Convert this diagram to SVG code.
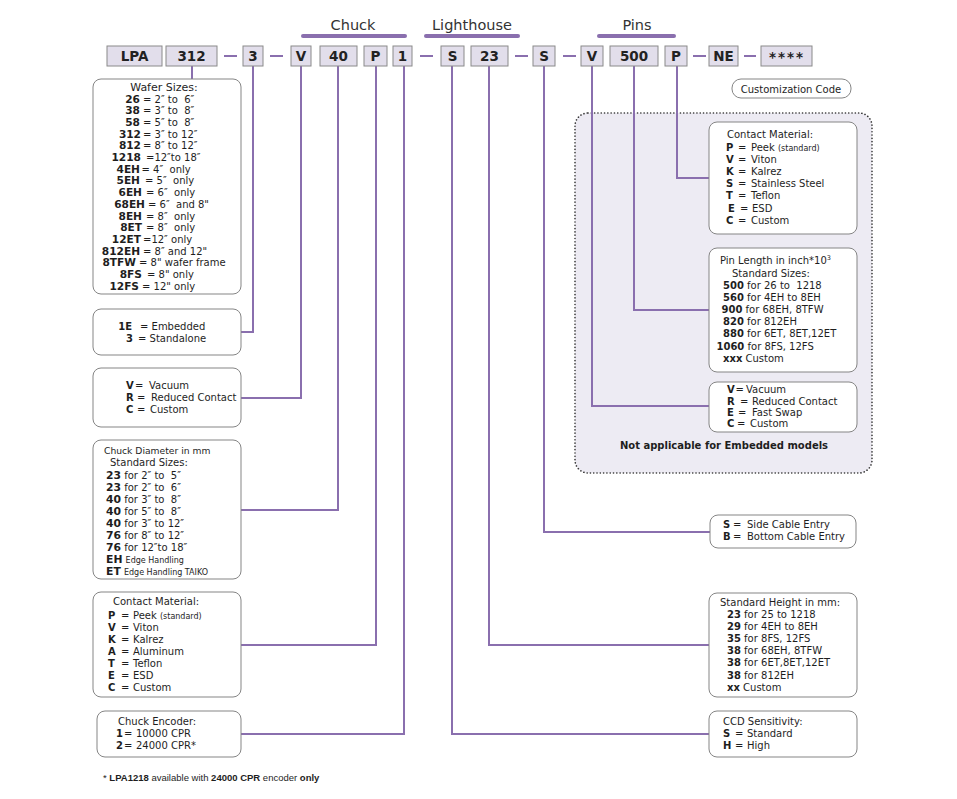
<svg xmlns="http://www.w3.org/2000/svg" width="957" height="799" viewBox="0 0 957 799" xml:space="preserve">
<style>
text{font-family:"DejaVu Sans",Verdana,sans-serif;font-size:10px;fill:#1e1e1e;white-space:pre}
.b{font-weight:bold}
.s{font-size:8px}
.wb{font-weight:bold;font-size:10.6px;text-anchor:end}
.db{font-weight:bold;font-size:10.8px}
.h{font-size:14.5px;fill:#333;text-anchor:middle}
.c{font-size:13.5px;font-weight:bold;text-anchor:middle;fill:#222}
.m{text-anchor:middle}
.e{text-anchor:end}
.code{fill:#e2deeb;stroke:#8a8a8a;stroke-width:1}
.box{fill:#fff;stroke:#858585;stroke-width:1}
.ln{fill:none;stroke:#8a6fae;stroke-width:2}
.bar{stroke:#8a6fae;stroke-width:4;stroke-linecap:round}
.fn{font-family:"Liberation Sans",Arial,sans-serif;font-size:9.5px}
</style>
<rect width="957" height="799" fill="#fff"/>
<g id="headers">
<text class="h" x="353" y="30">Chuck</text>
<line class="bar" x1="303" y1="36" x2="405" y2="36"/>
<text class="h" x="472" y="30">Lighthouse</text>
<line class="bar" x1="426" y1="36" x2="518" y2="36"/>
<text class="h" x="637" y="30">Pins</text>
<line class="bar" x1="599" y1="36" x2="674" y2="36"/>
</g>
<g id="region-pins">
<rect x="575" y="113" width="297" height="360" rx="13" fill="#edebf3" stroke="#333" stroke-width="1.6" stroke-dasharray="0.1 3.2" stroke-linecap="round"/>
</g>
<g id="connectors">
<path class="ln" d="M224 56H237M270 56H283M420 56H433M515 56H528M563 56H576M693 56H706M744 56H756"/>
<path class="ln" d="M192 66V79"/>
<path class="ln" d="M253 66V332H241"/>
<path class="ln" d="M301 66V398H241"/>
<path class="ln" d="M338 66V510H241"/>
<path class="ln" d="M376 66V645H241"/>
<path class="ln" d="M404 66V734H241"/>
<path class="ln" d="M452 66V734H709"/>
<path class="ln" d="M489 66V645H709"/>
<path class="ln" d="M544 66V532H710"/>
<path class="ln" d="M592 66V406H709"/>
<path class="ln" d="M634 66V310H709"/>
<path class="ln" d="M677 66V178H709"/>
</g>
<g id="codes">
<g id="c-lpa"><rect class="code" x="107" y="46" width="55" height="20"/><text class="c" x="134.5" y="61">LPA</text></g>
<g id="c-312"><rect class="code" x="166" y="46" width="51" height="20"/><text class="c" x="191.5" y="61">312</text></g>
<g id="c-3"><rect class="code" x="243" y="46" width="20" height="20"/><text class="c" x="253" y="61">3</text></g>
<g id="c-v1"><rect class="code" x="291" y="46" width="20" height="20"/><text class="c" x="301" y="61">V</text></g>
<g id="c-40"><rect class="code" x="320" y="46" width="37" height="20"/><text class="c" x="338.5" y="61">40</text></g>
<g id="c-p1"><rect class="code" x="364" y="46" width="23" height="20"/><text class="c" x="375.5" y="61">P</text></g>
<g id="c-1"><rect class="code" x="393" y="46" width="19" height="20"/><text class="c" x="402.5" y="61">1</text></g>
<g id="c-s1"><rect class="code" x="441" y="46" width="23" height="20"/><text class="c" x="452.5" y="61">S</text></g>
<g id="c-23"><rect class="code" x="471" y="46" width="37" height="20"/><text class="c" x="489.5" y="61">23</text></g>
<g id="c-s2"><rect class="code" x="533" y="46" width="22" height="20"/><text class="c" x="544" y="61">S</text></g>
<g id="c-v2"><rect class="code" x="581" y="46" width="22" height="20"/><text class="c" x="592" y="61">V</text></g>
<g id="c-500"><rect class="code" x="610" y="46" width="48" height="20"/><text class="c" x="634" y="61">500</text></g>
<g id="c-p2"><rect class="code" x="665" y="46" width="22" height="20"/><text class="c" x="676" y="61">P</text></g>
<g id="c-ne"><rect class="code" x="709" y="46" width="29" height="20"/><text class="c" x="723.5" y="61">NE</text></g>
<g id="c-star"><rect class="code" x="761" y="46" width="51" height="20"/><text class="c" x="787" y="62" style="letter-spacing:2px">****</text></g>
</g>
<g id="custom-code"><rect class="box" x="732" y="79" width="119" height="19" rx="9"/><text class="m" x="791" y="92.5">Customization Code</text></g>
<g id="wafer">
<rect class="box" x="93" y="79" width="148" height="215" rx="8"/>
<text class="m" x="164" y="91" style="font-size:11px">Wafer Sizes:</text>
<text class="wb" x="140" y="102.5">26</text><text x="143" y="102.5">= 2″ to  6″</text>
<text class="wb" x="140" y="114.2">38</text><text x="143" y="114.2">= 3″ to  8″</text>
<text class="wb" x="140" y="125.9">58</text><text x="143" y="125.9">= 5″ to  8″</text>
<text class="wb" x="141" y="137.6">312</text><text x="143" y="137.6">= 3″ to 12″</text>
<text class="wb" x="141" y="149.3">812</text><text x="143" y="149.3">= 8″ to 12″</text>
<text class="wb" x="141" y="161">1218</text><text x="146" y="161">=12″to 18″</text>
<text class="wb" x="140" y="172.7">4EH</text><text x="141.5" y="172.7">= 4″  only</text>
<text class="wb" x="140" y="184.4">5EH</text><text x="145" y="184.4">= 5″  only</text>
<text class="wb" x="142" y="196.1">6EH</text><text x="146" y="196.1">= 6″  only</text>
<text class="wb" x="145" y="207.8">68EH</text><text x="148" y="207.8">= 6″  and 8"</text>
<text class="wb" x="142" y="219.5">8EH</text><text x="146" y="219.5">= 8″  only</text>
<text class="wb" x="142" y="231.2">8ET</text><text x="146" y="231.2">= 8″  only</text>
<text class="wb" x="141" y="242.9">12ET</text><text x="143" y="242.9">=12″ only</text>
<text class="wb" x="140" y="254.6">812EH</text><text x="143" y="254.6">= 8″ and 12"</text>
<text class="wb" x="136" y="266.3">8TFW</text><text x="139" y="266.3">= 8" wafer frame</text>
<text class="wb" x="142" y="278">8FS</text><text x="147" y="278">= 8" only</text>
<text class="wb" x="139" y="289.7">12FS</text><text x="142" y="289.7">= 12" only</text>
</g>
<g id="chuck-type">
<rect class="box" x="93" y="309" width="148" height="46" rx="8"/>
<text class="b e" x="132" y="329.5">1E</text><text x="140" y="329.5">= Embedded</text>
<text class="b e" x="133" y="342">3</text><text x="138" y="342">= Standalone</text>
</g>
<g id="chuck-vacuum">
<rect class="box" x="93" y="368" width="148" height="59" rx="8"/>
<text y="388.5"><tspan x="126" class="b">V</tspan><tspan x="135">=</tspan><tspan x="149">Vacuum</tspan></text>
<text y="401"><tspan x="126" class="b">R</tspan><tspan x="137">=</tspan><tspan x="151">Reduced Contact</tspan></text>
<text y="413"><tspan x="126" class="b">C</tspan><tspan x="137">=</tspan><tspan x="150">Custom</tspan></text>
</g>
<g id="chuck-diameter">
<rect class="box" x="93" y="440" width="148" height="139" rx="8"/>
<text x="104" y="453.5" style="font-size:9.2px">Chuck Diameter in mm</text>
<text x="110" y="466">Standard Sizes:</text>
<text x="106" y="478.5"><tspan class="db">23</tspan> for 2″ to  5″</text>
<text x="106" y="490.5"><tspan class="db">23</tspan> for 2″ to  6″</text>
<text x="106" y="502.5"><tspan class="db">40</tspan> for 3″ to  8″</text>
<text x="106" y="514.5"><tspan class="db">40</tspan> for 5″ to  8″</text>
<text x="106" y="526.5"><tspan class="db">40</tspan> for 3″ to 12″</text>
<text x="106" y="538.5"><tspan class="db">76</tspan> for 8″ to 12″</text>
<text x="106" y="550.5"><tspan class="db">76</tspan> for 12″to 18″</text>
<text x="106" y="562.5"><tspan class="db">EH</tspan> <tspan class="s">Edge Handling</tspan></text>
<text x="106" y="574.5"><tspan class="db">ET</tspan> <tspan class="s">Edge Handling TAIKO</tspan></text>
</g>
<g id="chuck-contact">
<rect class="box" x="93" y="592" width="148" height="105" rx="8"/>
<text x="113" y="604.5">Contact Material:</text>
<text y="618.5"><tspan x="108" class="b">P</tspan><tspan x="121">=</tspan><tspan x="133">Peek <tspan class="s">(standard)</tspan></tspan></text>
<text y="630.5"><tspan x="108" class="b">V</tspan><tspan x="121">=</tspan><tspan x="133">Viton</tspan></text>
<text y="642.5"><tspan x="108" class="b">K</tspan><tspan x="121">=</tspan><tspan x="133">Kalrez</tspan></text>
<text y="654.5"><tspan x="108" class="b">A</tspan><tspan x="121">=</tspan><tspan x="133">Aluminum</tspan></text>
<text y="666.5"><tspan x="108" class="b">T</tspan><tspan x="121">=</tspan><tspan x="133">Teflon</tspan></text>
<text y="678.5"><tspan x="108" class="b">E</tspan><tspan x="121">=</tspan><tspan x="133">ESD</tspan></text>
<text y="690.5"><tspan x="108" class="b">C</tspan><tspan x="121">=</tspan><tspan x="133">Custom</tspan></text>
</g>
<g id="chuck-encoder">
<rect class="box" x="97" y="711" width="144" height="46" rx="8"/>
<text x="118" y="725">Chuck Encoder:</text>
<text y="737"><tspan x="116" class="b">1</tspan><tspan x="124">=</tspan><tspan x="136">10000 CPR</tspan></text>
<text y="749"><tspan x="116" class="b">2</tspan><tspan x="124">=</tspan><tspan x="136">24000 CPR*</tspan></text>
</g>
<g id="footnote">
<text class="fn" x="103" y="781">* <tspan class="b">LPA1218</tspan> available with <tspan class="b">24000 CPR</tspan> encoder <tspan class="b">only</tspan></text>
</g>
<g id="pin-contact">
<rect class="box" x="709" y="122" width="148" height="112" rx="8"/>
<text x="727" y="138">Contact Material:</text>
<text y="150.5"><tspan x="726" class="b">P</tspan><tspan x="738">=</tspan><tspan x="751">Peek <tspan class="s">(standard)</tspan></tspan></text>
<text y="162.7"><tspan x="726" class="b">V</tspan><tspan x="738">=</tspan><tspan x="751">Viton</tspan></text>
<text y="174.9"><tspan x="726" class="b">K</tspan><tspan x="738">=</tspan><tspan x="751">Kalrez</tspan></text>
<text y="187.1"><tspan x="726" class="b">S</tspan><tspan x="738">=</tspan><tspan x="751">Stainless Steel</tspan></text>
<text y="199.3"><tspan x="726" class="b">T</tspan><tspan x="738">=</tspan><tspan x="751">Teflon</tspan></text>
<text y="211.5"><tspan x="728" class="b">E</tspan><tspan x="740">=</tspan><tspan x="752">ESD</tspan></text>
<text y="223.7"><tspan x="726" class="b">C</tspan><tspan x="738">=</tspan><tspan x="751">Custom</tspan></text>
</g>
<g id="pin-length">
<rect class="box" x="709" y="248" width="148" height="124" rx="8"/>
<text x="720" y="264">Pin Length in inch*10<tspan style="font-size:6.5px" dy="-4">3</tspan></text>
<text x="732" y="277">Standard Sizes:</text>
<text x="723" y="288.5"><tspan class="b">500</tspan> for 26 to  1218</text>
<text x="723" y="300.7"><tspan class="b">560</tspan> for 4EH to 8EH</text>
<text x="721.5" y="312.9"><tspan class="b">900</tspan> for 68EH, 8TFW</text>
<text x="723" y="325.1"><tspan class="b">820</tspan> for 812EH</text>
<text x="723" y="337.3"><tspan class="b">880</tspan> for 6ET, 8ET,12ET</text>
<text x="716.5" y="349.5"><tspan class="b">1060</tspan> for 8FS, 12FS</text>
<text x="723" y="361.7"><tspan class="b">xxx</tspan> Custom</text>
</g>
<g id="pin-vacuum">
<rect class="box" x="709" y="382" width="148" height="50" rx="8"/>
<text y="392.5"><tspan x="727" class="b">V</tspan><tspan x="735.5">=</tspan><tspan x="746">Vacuum</tspan></text>
<text y="404.5"><tspan x="727" class="b">R</tspan><tspan x="740">=</tspan><tspan x="752">Reduced Contact</tspan></text>
<text y="416"><tspan x="727" class="b">E</tspan><tspan x="738">=</tspan><tspan x="752">Fast Swap</tspan></text>
<text y="427"><tspan x="727" class="b">C</tspan><tspan x="737">=</tspan><tspan x="750">Custom</tspan></text>
</g>
<text class="b m" x="724" y="448.5">Not applicable for Embedded models</text>
<g id="cable-entry">
<rect class="box" x="710" y="515" width="146" height="33" rx="8"/>
<text y="527.5"><tspan x="723" class="b">S</tspan><tspan x="733">=</tspan><tspan x="747">Side Cable Entry</tspan></text>
<text y="539.5"><tspan x="723" class="b">B</tspan><tspan x="733">=</tspan><tspan x="747">Bottom Cable Entry</tspan></text>
</g>
<g id="lighthouse-height">
<rect class="box" x="709" y="593" width="148" height="104" rx="8"/>
<text x="720" y="606">Standard Height in mm:</text>
<text x="727" y="617.5"><tspan class="b">23</tspan> for 25 to 1218</text>
<text x="727" y="629.7"><tspan class="b">29</tspan> for 4EH to 8EH</text>
<text x="727" y="641.9"><tspan class="b">35</tspan> for 8FS, 12FS</text>
<text x="727" y="654.1"><tspan class="b">38</tspan> for 68EH, 8TFW</text>
<text x="727" y="666.3"><tspan class="b">38</tspan> for 6ET,8ET,12ET</text>
<text x="727" y="678.5"><tspan class="b">38</tspan> for 812EH</text>
<text x="727" y="690.7"><tspan class="b">xx</tspan> Custom</text>
</g>
<g id="ccd">
<rect class="box" x="709" y="711" width="148" height="46" rx="8"/>
<text x="723" y="724.5">CCD Sensitivity:</text>
<text y="737"><tspan x="723" class="b">S</tspan><tspan x="735">=</tspan><tspan x="747">Standard</tspan></text>
<text y="748.5"><tspan x="723" class="b">H</tspan><tspan x="735">=</tspan><tspan x="747">High</tspan></text>
</g>
</svg>
